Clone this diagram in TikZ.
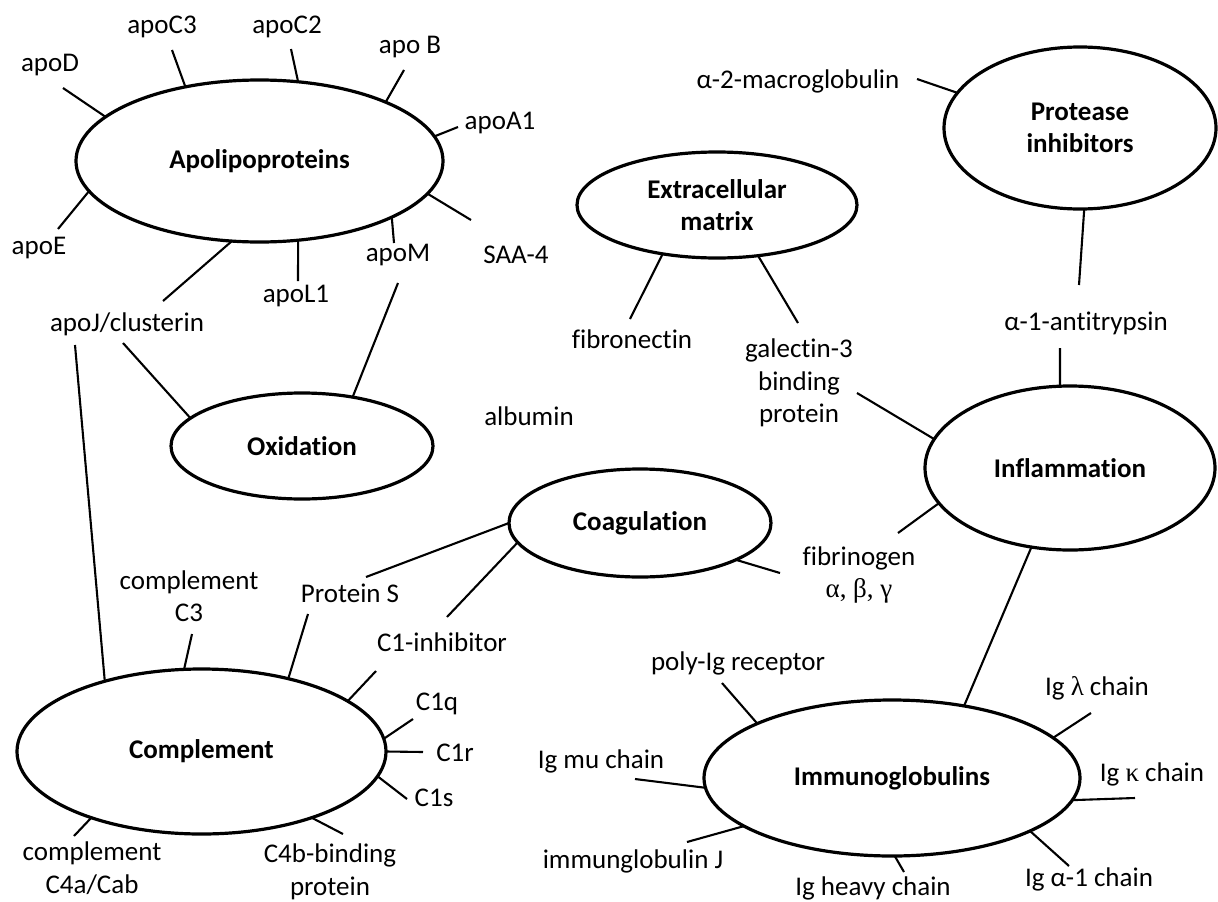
\documentclass[tikz,border=0pt]{standalone}
\usepackage{fontspec}
\setmainfont{Carlito}[RawFeature={-liga}]
\newfontfamily\gs{Liberation Serif}
\usetikzlibrary{shapes.geometric}
\begin{document}
\begin{tikzpicture}[x=1pt,y=-1pt,
  cat/.style={ellipse,draw,line width=3.2pt,inner sep=0pt,outer sep=0pt,font=\bfseries\fontsize{27}{32.5}\selectfont,align=center},
  lbl/.style={inner sep=0pt,font=\fontsize{27}{32.5}\selectfont,align=center},
  spoke/.style={line width=2.1pt}]
\useasboundingbox (0,0) rectangle (1218,902);
% category ellipses
\node[cat,minimum width=367pt,minimum height=162pt] (apo) at (259.5,161) {Apolipoproteins};
\node[cat,minimum width=280pt,minimum height=106pt] (ecm) at (717,205) {Extracellular\\matrix};
\node[cat,minimum width=272pt,minimum height=162pt] (prot) at (1080,128) {Protease\\inhibitors};
\node[cat,minimum width=290pt,minimum height=164pt] (infl) at (1070,468) {Inflammation};
\node[cat,minimum width=262pt,minimum height=106pt] (oxi) at (302,446) {Oxidation};
\node[cat,minimum width=262pt,minimum height=108pt] (coag) at (640,523) {Coagulation};
\node[cat,minimum width=369pt,minimum height=165pt] (comp) at (201.5,751.5) {Complement};
\node[cat,minimum width=376pt,minimum height=156pt] (immu) at (892,778) {Immunoglobulins};
% labels
\node[lbl] (tApoC3) at (162,27) {apoC3};
\node[lbl] (tApoC2) at (287,27) {apoC2};
\node[lbl] (tApoB) at (410,47) {apo B};
\node[lbl] (tApoD) at (50,65) {apoD};
\node[lbl] (tApoA1) at (500,123) {apoA1};
\node[lbl] (tApoE) at (39,248) {apoE};
\node[lbl] (tSAA) at (516,255) {SAA-4};
\node[lbl] (tApoM) at (398,255) {apoM};
\node[lbl] (tApoL1) at (296,296) {apoL1};
\node[lbl] (tApoJ) at (127,324) {apoJ/clusterin};
\node[lbl] (tA2M) at (798,81) {α-2-macroglobulin};
\node[lbl] (tFibro) at (632,339) {fibronectin};
\node[lbl] (tGal) at (799,383) {galectin-3\\binding\\protein};
\node[lbl] (tA1AT) at (1086,323) {α-1-antitrypsin};
\node[lbl] (tAlb) at (529,416) {albumin};
\node[lbl] (tFib) at (859,575) {fibrinogen\\{\gs α, β, γ}};
\node[lbl] (tC3) at (189,596) {complement\\C3};
\node[lbl] (tProtS) at (350,593) {Protein S};
\node[lbl] (tC1inh) at (442,642) {C1-inhibitor};
\node[lbl] (tPIgR) at (738,663) {poly-Ig receptor};
\node[lbl] (tLambda) at (1097,688) {Ig {\gs λ} chain};
\node[lbl] (tC1q) at (437,704) {C1q};
\node[lbl] (tC1r) at (455,753) {C1r};
\node[lbl] (tMu) at (601,761) {Ig mu chain};
\node[lbl] (tKappa) at (1152,774) {Ig {\gs κ} chain};
\node[lbl] (tC1s) at (434,798) {C1s};
\node[lbl] (tC4a) at (92,868) {complement\\C4a/Cab};
\node[lbl] (tC4b) at (330,872) {C4b-binding\\protein};
\node[lbl] (tJ) at (633,861) {immunglobulin J};
\node[lbl] (tHeavy) at (873,888) {Ig heavy chain};
\node[lbl] (tA1c) at (1089,879) {Ig α-1 chain};
% spoke end coordinates
\coordinate (sApoC3) at (172,50);
\coordinate (sApoC2) at (291,49);
\coordinate (sApoB) at (404,70);
\coordinate (sApoA1) at (458,127);
\coordinate (sSAA) at (471,220);
\coordinate (sApoM) at (394,243);
\coordinate (sApoL1) at (298,281);
\coordinate (sApoJ) at (163,301);
\coordinate (sApoE) at (58,229);
\coordinate (sApoD) at (63,88);
\coordinate (sFibro) at (630,319);
\coordinate (sGal) at (798,323);
\coordinate (sA2M) at (917,79);
\coordinate (sA1ATa) at (1079,285);
\coordinate (sA1ATb) at (1060,348);
\coordinate (sGalb) at (857,393);
\coordinate (sFiba) at (898,533);
\coordinate (sFibb) at (780,573);
\coordinate (sApoMb) at (398,283);
\coordinate (sApoJb) at (123,343);
\coordinate (sApoJc) at (75,345);
\coordinate (sProtSa) at (366,577);
\coordinate (sProtSb) at (308,614);
\coordinate (sC1inha) at (447,617);
\coordinate (sC1inhb) at (376,671);
\coordinate (sC3) at (192,634);
\coordinate (sC1q) at (413,719);
\coordinate (sC1r) at (423,752);
\coordinate (sC1s) at (407,799);
\coordinate (sC4b) at (343,834);
\coordinate (sC4a) at (74,836);
\coordinate (sPIgR) at (722,683);
\coordinate (sMu) at (635,779);
\coordinate (sJ) at (687,842);
\coordinate (sHeavy) at (904,872);
\coordinate (sA1c) at (1069,866);
\coordinate (sKappa) at (1135,798);
\coordinate (sLambda) at (1091,713);
% apolipoproteins
\draw[spoke] (sApoC3) -- (apo.135.9);
\draw[spoke] (sApoC2) -- (apo.64.6);
\draw[spoke] (sApoB) -- (apo.25.2);
\draw[spoke] (sApoA1) -- (apo.8.2);
\draw[spoke] (sSAA) -- (apo.-11.1);
\draw[spoke] (sApoM) -- (apo.-23.8);
\draw[spoke] (sApoL1) -- (apo.-64.8);
\draw[spoke] (sApoJ) -- (apo.-109.8);
\draw[spoke] (sApoE) -- (apo.190.5);
\draw[spoke] (sApoD) -- (apo.164.3);
% extracellular matrix
\draw[spoke] (sFibro) -- (ecm.222.3);
\draw[spoke] (sGal) -- (ecm.-51);
% protease inhibitors
\draw[spoke] (sA2M) -- (prot.164.9);
\draw[spoke] (sA1ATa) -- (prot.-87.9);
% inflammation
\draw[spoke] (sA1ATb) -- (infl.97);
\draw[spoke] (sGalb) -- (infl.168.1);
\draw[spoke] (sFiba) -- (infl.195.7);
\draw[spoke] (infl.-116) -- (immu.45);
% oxidation
\draw[spoke] (sApoMb) -- (oxi.44.4);
\draw[spoke] (sApoJb) -- (oxi.166.1);
% coagulation
\draw[spoke] (sProtSa) -- (coag.180.4);
\draw[spoke] (sC1inha) -- (coag.189.2);
\draw[spoke] (sFibb) -- (coag.-21.8);
% complement
\draw[spoke] (sApoJc) -- (comp.144.1);
\draw[spoke] (sC3) -- (comp.102.8);
\draw[spoke] (sProtSb) -- (comp.40);
\draw[spoke] (sC1inhb) -- (comp.19.8);
\draw[spoke] (sC1q) -- (comp.4.3);
\draw[spoke] (sC1r) -- (comp.0);
\draw[spoke] (sC1s) -- (comp.-8.9);
\draw[spoke] (sC4b) -- (comp.-31);
\draw[spoke] (sC4a) -- (comp.211.6);
% immunoglobulins
\draw[spoke] (sPIgR) -- (immu.158.4);
\draw[spoke] (sMu) -- (immu.183);
\draw[spoke] (sJ) -- (immu.198.3);
\draw[spoke] (sHeavy) -- (immu.-88.5);
\draw[spoke] (sA1c) -- (immu.-21.3);
\draw[spoke] (sKappa) -- (immu.-7.5);
\draw[spoke] (sLambda) -- (immu.14.5);
\end{tikzpicture}
\end{document}
